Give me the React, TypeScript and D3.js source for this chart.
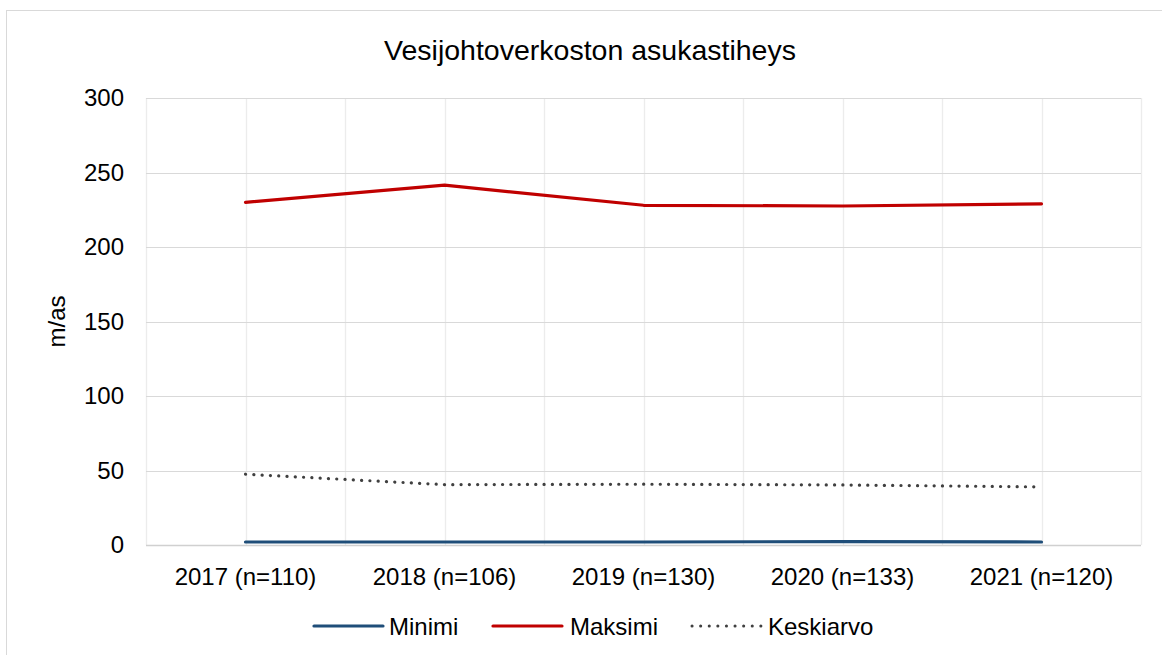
import * as d3 from 'd3';
import { useEffect, useRef } from 'react';

const categories = ['2017 (n=110)', '2018 (n=106)', '2019 (n=130)', '2020 (n=133)', '2021 (n=120)'];
const minimi = [2, 2, 2, 2.3, 2];
const maksimi = [230, 241.5, 228, 227.5, 229];
const keskiarvo = [47.5, 40.5, 40.8, 40.3, 39];
const yTicks = [0, 50, 100, 150, 200, 250, 300];

const series = [
  { name: 'Minimi', values: minimi, color: '#1F4E79', dash: null as string | null },
  { name: 'Maksimi', values: maksimi, color: '#C00000', dash: null as string | null },
  { name: 'Keskiarvo', values: keskiarvo, color: '#404040', dash: '0.1 8.2' },
];

const W = 1162;
const H = 655;
const FONT = '"Liberation Sans", Arial, sans-serif';

export default function App() {
  const ref = useRef<SVGSVGElement>(null);

  useEffect(() => {
    if (!ref.current) return;
    const svg = d3.select(ref.current);
    svg.selectAll('*').remove();

    const left = 146;
    const right = 1141;
    const top = 98;
    const bottom = 545;

    // outer chart border
    svg
      .append('rect')
      .attr('x', 6.5)
      .attr('y', 10.5)
      .attr('width', W + 20)
      .attr('height', H + 20)
      .attr('fill', '#fff')
      .attr('stroke', '#d9d9d9');

    const x = d3.scaleBand<string>().domain(categories).range([left, right]);
    const y = d3.scaleLinear().domain([0, 300]).range([bottom, top]);
    const cx = (c: string) => (x(c) as number) + x.bandwidth() / 2;

    // vertical gridlines: band edges and centres
    const vx: number[] = [];
    categories.forEach((c) => {
      vx.push(x(c) as number, cx(c));
    });
    vx.push(right);
    svg
      .append('g')
      .selectAll('line')
      .data(vx)
      .join('line')
      .attr('x1', (d) => Math.round(d) + 0.5)
      .attr('x2', (d) => Math.round(d) + 0.5)
      .attr('y1', top)
      .attr('y2', bottom)
      .attr('stroke', '#ececec')
      .attr('stroke-width', 1.3);

    // horizontal gridlines
    svg
      .append('g')
      .selectAll('line')
      .data(yTicks)
      .join('line')
      .attr('x1', left)
      .attr('x2', right)
      .attr('y1', (d) => Math.round(y(d)) + 0.5)
      .attr('y2', (d) => Math.round(y(d)) + 0.5)
      .attr('stroke', (d) => (d === 0 ? '#d0d0d0' : '#d9d9d9'))
      .attr('stroke-width', (d) => (d === 0 ? 1.6 : 1.2));

    // y tick labels
    svg
      .append('g')
      .selectAll('text')
      .data(yTicks)
      .join('text')
      .attr('x', 124)
      .attr('y', (d) => y(d))
      .attr('dy', '0.35em')
      .attr('text-anchor', 'end')
      .style('font', `24px ${FONT}`)
      .attr('fill', '#000')
      .text((d) => d);

    // x labels
    svg
      .append('g')
      .selectAll('text')
      .data(categories)
      .join('text')
      .attr('x', (d) => cx(d))
      .attr('y', 585)
      .attr('text-anchor', 'middle')
      .style('font', `24px ${FONT}`)
      .attr('fill', '#000')
      .text((d) => d);

    // y axis title
    svg
      .append('text')
      .attr('transform', `translate(65,${(top + bottom) / 2}) rotate(-90)`)
      .attr('text-anchor', 'middle')
      .style('font', `24px ${FONT}`)
      .attr('fill', '#000')
      .text('m/as');

    // title
    svg
      .append('text')
      .attr('x', 590)
      .attr('y', 60)
      .attr('text-anchor', 'middle')
      .style('font', `28.5px ${FONT}`)
      .attr('fill', '#000')
      .text('Vesijohtoverkoston asukastiheys');

    // series lines
    const line = d3
      .line<number>()
      .x((_, i) => cx(categories[i]))
      .y((d) => y(d));

    series.forEach((s) => {
      svg
        .append('path')
        .datum(s.values)
        .attr('d', line)
        .attr('fill', 'none')
        .attr('stroke', s.color)
        .attr('stroke-width', s.dash ? 3.2 : 3.2)
        .attr('stroke-linecap', 'round')
        .attr('stroke-linejoin', 'round')
        .attr('stroke-dasharray', s.dash ?? null);
    });

    // legend
    const legendItems = [
      { x: 314, textX: 389 },
      { x: 493, textX: 570 },
      { x: 692, textX: 768 },
    ];
    const ly = 626;
    series.forEach((s, i) => {
      const g = svg.append('g');
      g.append('line')
        .attr('x1', legendItems[i].x)
        .attr('x2', legendItems[i].x + 69)
        .attr('y1', ly)
        .attr('y2', ly)
        .attr('stroke', s.color)
        .attr('stroke-width', s.dash ? 3 : 3.2)
        .attr('stroke-linecap', 'round')
        .attr('stroke-dasharray', s.dash ? '0.1 8.5' : null);
      g.append('text')
        .attr('x', legendItems[i].textX)
        .attr('y', ly + 1)
        .attr('dy', '0.35em')
        .style('font', `24px ${FONT}`)
        .attr('fill', '#000')
        .text(s.name);
    });
  }, []);

  return (
    <svg
      ref={ref}
      width={W}
      height={H}
      style={{ position: 'absolute', left: 0, top: 0, display: 'block', background: '#fff' }}
    />
  );
}
